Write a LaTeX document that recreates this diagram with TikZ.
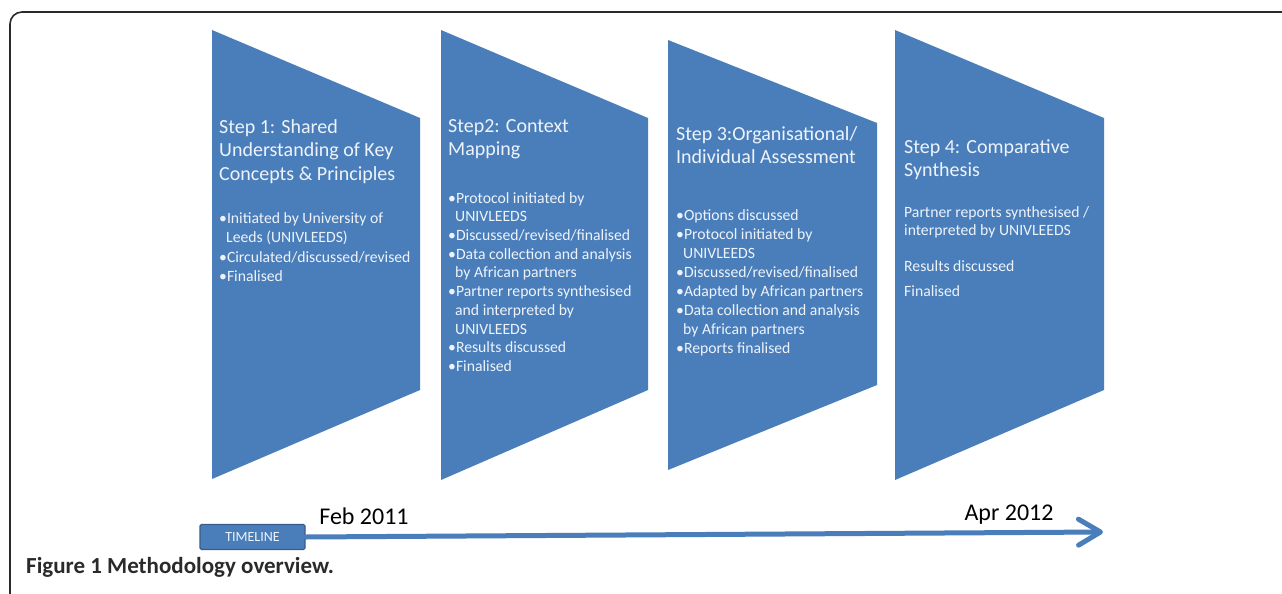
\documentclass[tikz,border=0pt]{standalone}
\usepackage{fontspec}
\setmainfont{Carlito}
\usetikzlibrary{arrows.meta}
\definecolor{stepblue}{HTML}{4A7EBB}
\definecolor{stepedge}{HTML}{385D8A}
\definecolor{steptext}{HTML}{EEF3FA}
\definecolor{framegray}{HTML}{2A2A2A}
\begin{document}
\begin{tikzpicture}[x=1pt,y=-1pt,
  stepshape/.style={fill=stepblue},
  titletext/.style={anchor=north west, inner sep=0pt, align=left, text=steptext, font=\fontsize{20}{23.5}\selectfont},
  bullettext/.style={anchor=north west, inner sep=0pt, align=left, text=steptext, font=\fontsize{15.7}{19.5}\selectfont},
  tlbox/.style={fill=stepblue, draw=stepedge, line width=1.3pt, rounded corners=1.5pt, minimum width=105pt, minimum height=25pt, inner sep=0pt, text=steptext, font=\fontsize{14}{16}\selectfont},
  tlarrow/.style={draw=stepblue, line width=5pt, line cap=round, -{Straight Barb[length=22pt,width=26pt,line cap=round,round]}},
  datetext/.style={inner sep=0pt, text=black, font=\fontsize{24}{28}\selectfont},
  captext/.style={anchor=west, inner sep=0pt, text=framegray, font=\bfseries\fontsize{23}{27}\selectfont},
  framestyle/.style={draw=framegray, line width=1.6pt, rounded corners=12pt}
]
\useasboundingbox (0,0) rectangle (1282,594);
\fill[white] (0,0) rectangle (1282,594);
\draw[framestyle] (10,600) -- (10,12) -- (1290,12);

% step shapes
\fill[stepshape] (212,30) -- (420,118) -- (420,390) -- (212,479) -- cycle;
\fill[stepshape] (441,30) -- (648,118) -- (648,390) -- (441,480) -- cycle;
\fill[stepshape] (668,40) -- (877,123) -- (877,385) -- (668,470) -- cycle;
\fill[stepshape] (895,30) -- (1104,118) -- (1104,390) -- (895,480) -- cycle;

% step 1
\node[titletext] (t1) at (219,119) {Step 1: Shared\\Understanding of Key\\Concepts \& Principles};
\node[bullettext] (b1) at (219,212) {\textbullet Initiated by University of\\\hspace*{7pt}Leeds (UNIVLEEDS)\\\textbullet Circulated/discussed/revised\\\textbullet Finalised};

% step 2
\node[titletext] (t2) at (448,119) {Step2: Context\\Mapping};
\node[bullettext, font=\fontsize{15.7}{18.7}\selectfont] (b2) at (448,192) {\textbullet Protocol initiated by\\\hspace*{7pt}UNIVLEEDS\\\textbullet Discussed/revised/finalised\\\textbullet Data collection and analysis\\\hspace*{7pt}by African partners\\\textbullet Partner reports synthesised\\\hspace*{7pt}and interpreted by\\\hspace*{7pt}UNIVLEEDS\\\textbullet Results discussed\\\textbullet Finalised};

% step 3
\node[titletext] (t3) at (676,126) {Step 3:Organisational/\\Individual Assessment};
\node[bullettext, font=\fontsize{15.7}{19.1}\selectfont] (b3) at (676,209) {\textbullet Options discussed\\\textbullet Protocol initiated by\\\hspace*{7pt}UNIVLEEDS\\\textbullet Discussed/revised/finalised\\\textbullet Adapted by African partners\\\textbullet Data collection and analysis\\\hspace*{7pt}by African partners\\\textbullet Reports finalised};

% step 4
\node[titletext] (t4) at (904,139) {Step 4: Comparative\\Synthesis};
\node[bullettext, font=\fontsize{15.7}{18}\selectfont] (b4a) at (904,206) {Partner reports synthesised /\\interpreted by UNIVLEEDS};
\node[bullettext] (b4b) at (904,260) {Results discussed};
\node[bullettext] (b4c) at (904,285) {Finalised};

% timeline
\node[tlbox] (tl) at (252.5,537) {TIMELINE};
\coordinate (tlend) at (1103,532);
\draw[tlarrow] (tl.east) -- (tlend);
\node[datetext] (feb) at (364,516) {Feb 2011};
\node[datetext] (apr) at (1009,515) {Apr 2012};

% caption
\node[captext] (cap) at (26,567) {Figure 1 Methodology overview.};
\end{tikzpicture}
\end{document}
